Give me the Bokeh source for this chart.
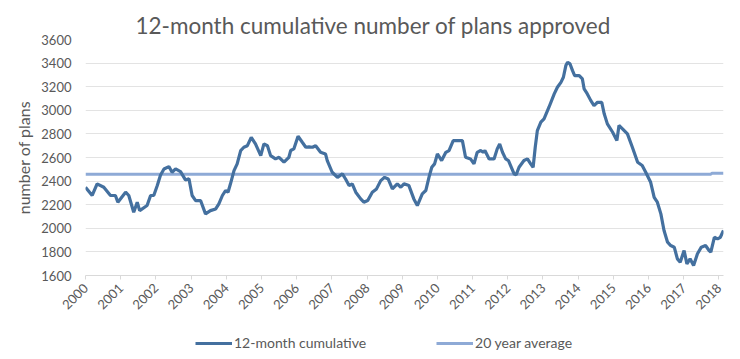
import math
from bokeh.plotting import figure
from bokeh.layouts import column
from bokeh.models import Range1d, FixedTicker, Legend, LegendItem, Title
from bokeh.embed import file_html
from bokeh.resources import INLINE

# ---- data (decimal year, 12-month cumulative plans approved) ----
years = [
    2000.00, 2000.19, 2000.33, 2000.52, 2000.71, 2000.85, 2000.92, 2001.14, 2001.23, 2001.37,
    2001.47, 2001.54, 2001.75, 2001.85, 2001.94, 2002.04, 2002.13, 2002.23, 2002.37, 2002.46,
    2002.56, 2002.70, 2002.84, 2002.94, 2003.03, 2003.13, 2003.27, 2003.41, 2003.55, 2003.70,
    2003.79, 2003.89, 2003.98, 2004.05, 2004.12, 2004.22, 2004.31, 2004.41, 2004.50, 2004.60,
    2004.71, 2004.83, 2004.98, 2005.07, 2005.17, 2005.26, 2005.40, 2005.50, 2005.64, 2005.78,
    2005.83, 2005.92, 2006.04, 2006.16, 2006.26, 2006.35, 2006.45, 2006.54, 2006.68, 2006.82,
    2006.87, 2007.01, 2007.16, 2007.30, 2007.39, 2007.49, 2007.58, 2007.68, 2007.82, 2007.91,
    2008.02, 2008.15, 2008.27, 2008.39, 2008.50, 2008.60, 2008.72, 2008.86, 2008.96, 2009.05,
    2009.19, 2009.33, 2009.43, 2009.57, 2009.67, 2009.76, 2009.84, 2009.92, 2010.00, 2010.12,
    2010.24, 2010.33, 2010.45, 2010.71, 2010.80, 2010.94, 2011.04, 2011.13, 2011.23, 2011.30,
    2011.35, 2011.47, 2011.61, 2011.70, 2011.77, 2011.85, 2011.94, 2012.02, 2012.08, 2012.18,
    2012.24, 2012.32, 2012.46, 2012.56, 2012.65, 2012.72, 2012.78, 2012.84, 2012.94, 2013.03,
    2013.17, 2013.32, 2013.41, 2013.51, 2013.58, 2013.65, 2013.70, 2013.77, 2013.84, 2013.90,
    2014.03, 2014.12, 2014.17, 2014.26, 2014.36, 2014.45, 2014.55, 2014.67, 2014.74, 2014.83,
    2014.98, 2015.10, 2015.16, 2015.26, 2015.40, 2015.54, 2015.69, 2015.82, 2015.92, 2016.06,
    2016.16, 2016.25, 2016.35, 2016.44, 2016.54, 2016.63, 2016.73, 2016.82, 2016.90, 2017.01,
    2017.09, 2017.18, 2017.28, 2017.39, 2017.50, 2017.62, 2017.72, 2017.77, 2017.87, 2017.96,
    2018.04, 2018.13,
]
plans = [
    2348, 2278, 2377, 2348, 2278, 2278, 2221, 2306, 2278, 2136,
    2221, 2150, 2193, 2278, 2278, 2362, 2450, 2503, 2523, 2475,
    2503, 2480, 2410, 2420, 2278, 2235, 2235, 2122, 2150, 2164,
    2207, 2278, 2320, 2306, 2377, 2489, 2546, 2659, 2687, 2700,
    2771, 2715, 2616, 2715, 2700, 2616, 2588, 2602, 2560, 2602,
    2659, 2673, 2780, 2729, 2687, 2690, 2687, 2700, 2644, 2630,
    2574, 2475, 2432, 2461, 2418, 2362, 2377, 2306, 2249, 2221,
    2235, 2306, 2334, 2404, 2432, 2418, 2334, 2377, 2348, 2377,
    2362, 2249, 2193, 2292, 2320, 2432, 2517, 2546, 2630, 2574,
    2644, 2659, 2743, 2743, 2602, 2588, 2546, 2644, 2659, 2644,
    2659, 2588, 2588, 2673, 2715, 2644, 2588, 2574, 2532, 2461,
    2455, 2517, 2574, 2588, 2546, 2517, 2687, 2828, 2899, 2927,
    3026, 3139, 3195, 3237, 3280, 3379, 3407, 3393, 3336, 3294,
    3294, 3266, 3181, 3139, 3082, 3040, 3068, 3068, 2970, 2885,
    2814, 2743, 2871, 2843, 2800, 2687, 2560, 2532, 2475, 2390,
    2263, 2221, 2122, 1981, 1882, 1854, 1840, 1741, 1713, 1812,
    1699, 1741, 1685, 1784, 1840, 1854, 1812, 1798, 1924, 1910,
    1924, 1981,
]
avg_years = [2000.00, 2017.77, 2017.80, 2018.13]
avg_plans = [2458, 2458, 2467, 2467]

series_labels = ["12-month cumulative", "20 year average"]
tick_years = list(range(2000, 2019))
y_ticks = list(range(1600, 3601, 200))

TEXT = "#595959"
FONT = "Lato"
MAIN_COLOR = "#44709f"
AVG_COLOR = "#8eaad6"

p = figure(width=740, height=335, output_backend="svg", toolbar_location=None,
           x_range=Range1d(2000, 2018.13), y_range=Range1d(1600, 3600),
           min_border_left=85, min_border_right=17, min_border_top=39, min_border_bottom=60)
p.outline_line_color = None
p.background_fill_color = "white"

title = Title(text="12-month cumulative number of plans approved", align="left",
              text_font=FONT, text_font_size="22.5px", text_font_style="normal",
              text_color=TEXT, offset=50, standoff=2)
p.add_layout(title, "above")

p.line(avg_years, avg_plans, line_color=AVG_COLOR, line_width=3)
p.line(years, plans, line_color=MAIN_COLOR, line_width=3.2)

p.xaxis.ticker = FixedTicker(ticks=tick_years)
p.xaxis.major_label_orientation = math.pi / 4
p.xaxis.major_label_text_font = FONT
p.xaxis.major_label_text_font_size = "13px"
p.xaxis.major_label_text_color = TEXT
p.xaxis.axis_line_color = "#d9d9d9"
p.xaxis.major_tick_line_color = "#d9d9d9"
p.xaxis.major_tick_in = 0
p.xaxis.major_tick_out = 4
p.xaxis.minor_tick_line_color = None
p.xaxis.major_label_standoff = 6

p.yaxis.ticker = FixedTicker(ticks=y_ticks)
p.yaxis.axis_label = "number of plans"
p.yaxis.axis_label_text_font = FONT
p.yaxis.axis_label_text_font_size = "16px"
p.yaxis.axis_label_text_font_style = "normal"
p.yaxis.axis_label_text_color = TEXT
p.yaxis.axis_label_standoff = 5
p.yaxis.major_label_text_font = FONT
p.yaxis.major_label_text_font_size = "13px"
p.yaxis.major_label_text_color = TEXT
p.yaxis.axis_line_color = None
p.yaxis.major_tick_line_color = None
p.yaxis.major_tick_in = 0
p.yaxis.major_tick_out = 0
p.yaxis.minor_tick_line_color = None
p.yaxis.major_label_standoff = 14

p.xgrid.grid_line_color = None
p.ygrid.grid_line_color = "#e3e3e3"
p.ygrid.grid_line_width = 1

# ---- legend strip below the chart (series drawn off-range, only legend shows) ----
lf = figure(width=740, height=24, output_backend="svg", toolbar_location=None,
            x_range=Range1d(0, 1), y_range=Range1d(0, 1),
            min_border_left=0, min_border_right=0, min_border_top=0, min_border_bottom=0)
lf.axis.visible = False
lf.grid.visible = False
lf.outline_line_color = None
lm = lf.line(years, plans, line_color=MAIN_COLOR, line_width=3.2)
la = lf.line(avg_years, avg_plans, line_color=AVG_COLOR, line_width=3)

legend = Legend(items=[LegendItem(label=series_labels[0], renderers=[lm]),
                       LegendItem(label=series_labels[1], renderers=[la])],
                orientation="horizontal", location=(110, 8),
                label_text_font=FONT, label_text_font_size="14px", label_text_color=TEXT,
                glyph_width=37, glyph_height=16, label_height=16, label_standoff=2, spacing=70,
                padding=0, margin=0, border_line_color=None, background_fill_alpha=0)
lf.add_layout(legend, "center")

layout = column(p, lf, spacing=0)
open("out.html", "w").write(file_html(layout, INLINE))
